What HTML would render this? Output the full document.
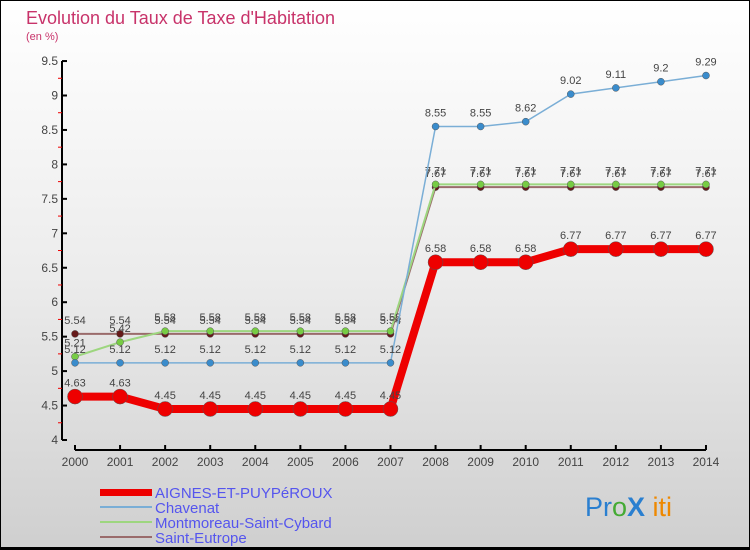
<!DOCTYPE html>
<html><head><meta charset="utf-8"><style>
body{margin:0}
#c{width:750px;height:550px;position:relative;overflow:hidden;background:linear-gradient(#ffffff 0%,#ececec 50%,#cfcfcf 100%);font-family:"Liberation Sans",sans-serif}
</style></head><body>
<div id="c">
<svg id="s" width="750" height="550" style="position:absolute;left:0;top:0">
<rect x="0.5" y="0.5" width="749" height="549" fill="none" stroke="#000"/>
<text x="26" y="24" font-size="18" fill="#c8336a">Evolution du Taux de Taxe d'Habitation</text>
<text x="26" y="40" font-size="11" fill="#c8336a">(en %)</text>
<g id="axes"></g><g id="series"></g>
<g>
<rect x="100" y="489" width="52" height="7" fill="#ee0000"/>
<line x1="100" y1="507" x2="152" y2="507" stroke="#7aaed6" stroke-width="2"/>
<line x1="100" y1="522" x2="152" y2="522" stroke="#9dd67f" stroke-width="2"/>
<line x1="100" y1="537" x2="152" y2="537" stroke="#9a6b6b" stroke-width="2"/>
<g font-size="15" fill="#5555ee">
<text x="155" y="498">AIGNES-ET-PUYPéROUX</text>
<text x="155" y="513">Chavenat</text>
<text x="155" y="528">Montmoreau-Saint-Cybard</text>
<text x="155" y="543">Saint-Eutrope</text>
</g></g>
<g font-size="27">
<text x="585" y="516"><tspan fill="#2a7fd0">Pr</tspan><tspan fill="#44aa33">o</tspan><tspan fill="#2a7fd0" font-weight="bold">X</tspan><tspan fill="#ee8800"> iti</tspan></text>
</g>
<line x1="0" y1="548" x2="750" y2="548" stroke="#000" stroke-width="2"/>
</svg>
</div>
<script>
const years=[2000,2001,2002,2003,2004,2005,2006,2007,2008,2009,2010,2011,2012,2013,2014];
const aignes=[4.63,4.63,4.45,4.45,4.45,4.45,4.45,4.45,6.58,6.58,6.58,6.77,6.77,6.77,6.77];
const chavenat=[5.12,5.12,5.12,5.12,5.12,5.12,5.12,5.12,8.55,8.55,8.62,9.02,9.11,9.2,9.29];
const montmoreau=[5.21,5.42,5.58,5.58,5.58,5.58,5.58,5.58,7.71,7.71,7.71,7.71,7.71,7.71,7.71];
const eutrope=[5.54,5.54,5.54,5.54,5.54,5.54,5.54,5.54,7.67,7.67,7.67,7.67,7.67,7.67,7.67];
const yTicks=[4,4.5,5,5.5,6,6.5,7,7.5,8,8.5,9,9.5];
const NS="http://www.w3.org/2000/svg";
const X=i=>75+i*45.07, Y=v=>440-(v-4)*68.9;
function mk(t,a,p){const e=document.createElementNS(NS,t);for(const k in a)e.setAttribute(k,a[k]);p.appendChild(e);return e;}
const ax=document.getElementById('axes');
let l=mk('line',{x1:62,y1:Y(9.5),x2:62,y2:Y(4),stroke:'#000','stroke-width':2},ax);


l=mk('line',{x1:X(0),y1:450,x2:X(14),y2:450,stroke:'#000','stroke-width':2},ax);


yTicks.forEach(v=>{mk('line',{x1:62,y1:Y(v),x2:67,y2:Y(v),stroke:'#000','stroke-width':2},ax);
 if(v<9.5)mk('line',{x1:58,y1:Y(v+0.25),x2:62,y2:Y(v+0.25),stroke:'#e00','stroke-width':1},ax);
 const t=mk('text',{x:58,y:Y(v)+4,'font-size':12,fill:'#444','text-anchor':'end'},ax);t.textContent=v;
 
 });
years.forEach((y,i)=>{mk('line',{x1:X(i),y1:445,x2:X(i),y2:450,stroke:'#000','stroke-width':2},ax);
 const t=mk('text',{x:X(i),y:466,'font-size':12,fill:'#444','text-anchor':'middle'},ax);t.textContent=y;
 
 });
const sg=document.getElementById('series');
function series(d,col,dot,w,r,name){
 const g=mk('g',{},sg);
 
 
 mk('polyline',{points:d.map((v,i)=>X(i)+','+Y(v)).join(' '),fill:'none',stroke:col,'stroke-width':w},g);
 d.forEach((v,i)=>{const c=mk('circle',{cx:X(i),cy:Y(v),r:r,fill:dot,stroke:'#555','stroke-width':0.5},g);
  
  
  const t=mk('text',{x:X(i),y:Y(v)-10,'font-size':11,fill:'#444','text-anchor':'middle'},g);t.textContent=v;
  
  });
}
series(eutrope,'#9a6b6b','#661a1a',2,3.5,'series-saint-eutrope');
series(montmoreau,'#9dd67f','#77cc44',2,3.5,'series-montmoreau');
series(chavenat,'#7aaed6','#3a8ccc',1.5,3.5,'series-chavenat');
series(aignes,'#ee0000','#ee0000',8,7.5,'series-aignes');
</script>
</body></html>
